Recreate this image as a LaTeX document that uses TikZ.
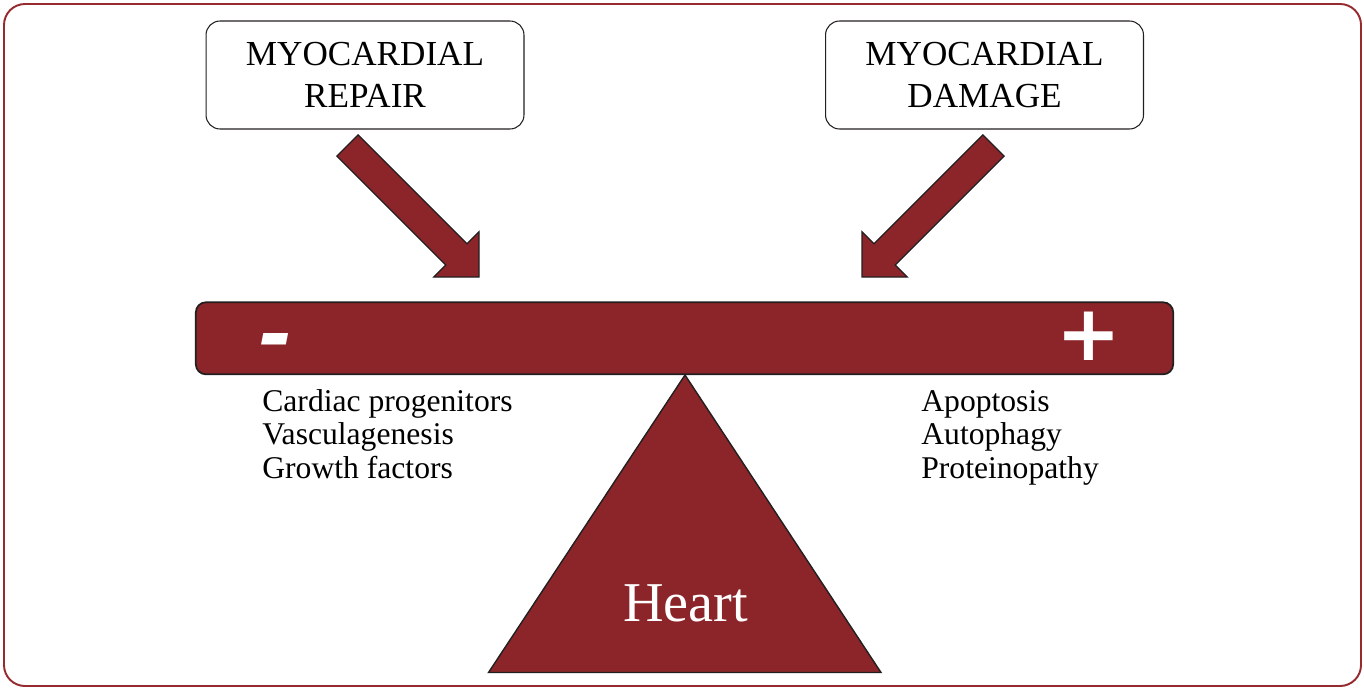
\documentclass[tikz,border=0pt]{standalone}
\usepackage{fontspec}
\setmainfont{Liberation Serif}
\newfontfamily\signfont{DejaVu Sans}
\usetikzlibrary{positioning}
\definecolor{heartred}{RGB}{139,37,41}
\definecolor{edgegray}{RGB}{35,31,32}
\definecolor{framered}{RGB}{150,42,47}

\begin{document}
\begin{tikzpicture}[
  x=0.02cm, y=-0.02cm,
  topbox/.style={rectangle, draw=edgegray, line width=0.6pt, rounded corners=0.28cm,
    minimum width=6.36cm, minimum height=2.16cm, align=center,
    font=\fontsize{20}{23.6}\selectfont},
  fatarrow/.style={fill=heartred, draw=edgegray, line width=0.7pt, line join=miter},
  beam/.style={rectangle, fill=heartred, draw=edgegray, line width=1pt, rounded corners=0.2cm,
    minimum width=19.55cm, minimum height=1.44cm},
  item/.style={anchor=base west, inner sep=0pt, font=\fontsize{18}{19}\selectfont},
  sign/.style={text=white, inner sep=0pt, font=\signfont\bfseries\itshape\fontsize{#1}{#1}\selectfont}
]
  % Frame
  \useasboundingbox (0,0) rectangle (1364,690);
  \draw[framered, line width=1.1pt, rounded corners=0.42cm] (4,4) rectangle (1361,686);

  % Boxes
  \node[topbox] (repair) at (365,75) {MYOCARDIAL\\REPAIR};
  \node[topbox] (damage) at (984.5,75) {MYOCARDIAL\\DAMAGE};

  % Fat arrows
  \draw[fatarrow] (336.9,156.1) -- (358.1,134.9) -- (467,243.8) -- (479,231.8)
    -- (479,277) -- (433.8,277) -- (445.8,265) -- cycle;
  \draw[fatarrow] (1004.1,156.1) -- (982.9,134.9) -- (874,243.8) -- (862,231.8)
    -- (862,277) -- (907.2,277) -- (895.2,265) -- cycle;

  % Fulcrum and beam
  \coordinate (apex) at (685,375);
  \coordinate (baseL) at (488.5,672.5);
  \coordinate (baseR) at (881,672.5);
  \draw[fill=heartred, draw=edgegray, line width=0.8pt] (apex) -- (baseR) -- (baseL) -- cycle;
  \node[beam] (lever) at (684.5,338.3) {};
  \node[sign=46] (minus) at (276,348) {-};
  \node[sign=44] (plus) at (1089,336) {+};
  \node[anchor=base, text=white, font=\fontsize{32}{32}\selectfont] (heart) at (685.5,621.7) {Heart};

  % Lists
  \node[item] (rep1) at (262,411) {Cardiac progenitors};
  \node[item] (rep2) at (262,444.5) {Vasculagenesis};
  \node[item] (rep3) at (262,478) {Growth factors};
  \node[item] (dam1) at (921,411) {Apoptosis};
  \node[item] (dam2) at (921,444.5) {Autophagy};
  \node[item] (dam3) at (921,478) {Proteinopathy};
\end{tikzpicture}
\end{document}
